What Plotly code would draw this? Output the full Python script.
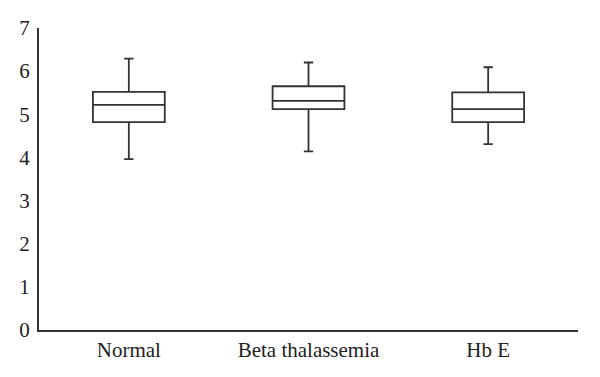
import plotly.graph_objects as go

categories = ["Normal", "Beta thalassemia", "Hb E"]
lower_whisker = [3.96, 4.14, 4.31]
q1_values = [4.82, 5.12, 4.82]
medians = [5.22, 5.31, 5.12]
q3_values = [5.52, 5.65, 5.51]
upper_whisker = [6.29, 6.20, 6.09]
y_ticks = [0, 1, 2, 3, 4, 5, 6, 7]

fig = go.Figure()
fig.add_trace(go.Box(
    x=categories,
    q1=q1_values,
    median=medians,
    q3=q3_values,
    lowerfence=lower_whisker,
    upperfence=upper_whisker,
    width=0.4,
    fillcolor="rgba(255,255,255,0)",
    line=dict(color="#333333", width=1.8),
    whiskerwidth=0.13,
    boxpoints=False,
    showlegend=False,
    hoverinfo="skip",
))

font = dict(family="Liberation Serif, Times New Roman, serif", size=21, color="#222222")
fig.update_layout(
    width=600, height=377,
    margin=dict(l=39, r=22, t=28, b=47, autoexpand=False),
    paper_bgcolor="white", plot_bgcolor="white",
    font=font,
    xaxis=dict(
        type="category", range=[-0.5, 2.5],
        showline=True, linecolor="#333333", linewidth=2,
        showgrid=False, ticks="", zeroline=False,
        automargin=False,
        tickfont=font,
    ),
    yaxis=dict(
        range=[0, 7], tickvals=y_ticks,
        showline=True, linecolor="#333333", linewidth=2,
        showgrid=False, ticks="", zeroline=False,
        automargin=False,
        ticklabelstandoff=3,
        tickfont=font,
    ),
)
fig.write_html(
    "out.html",
    config={"displayModeBar": False, "staticPlot": True},
    post_script="document.body.style.margin='0';",
)
